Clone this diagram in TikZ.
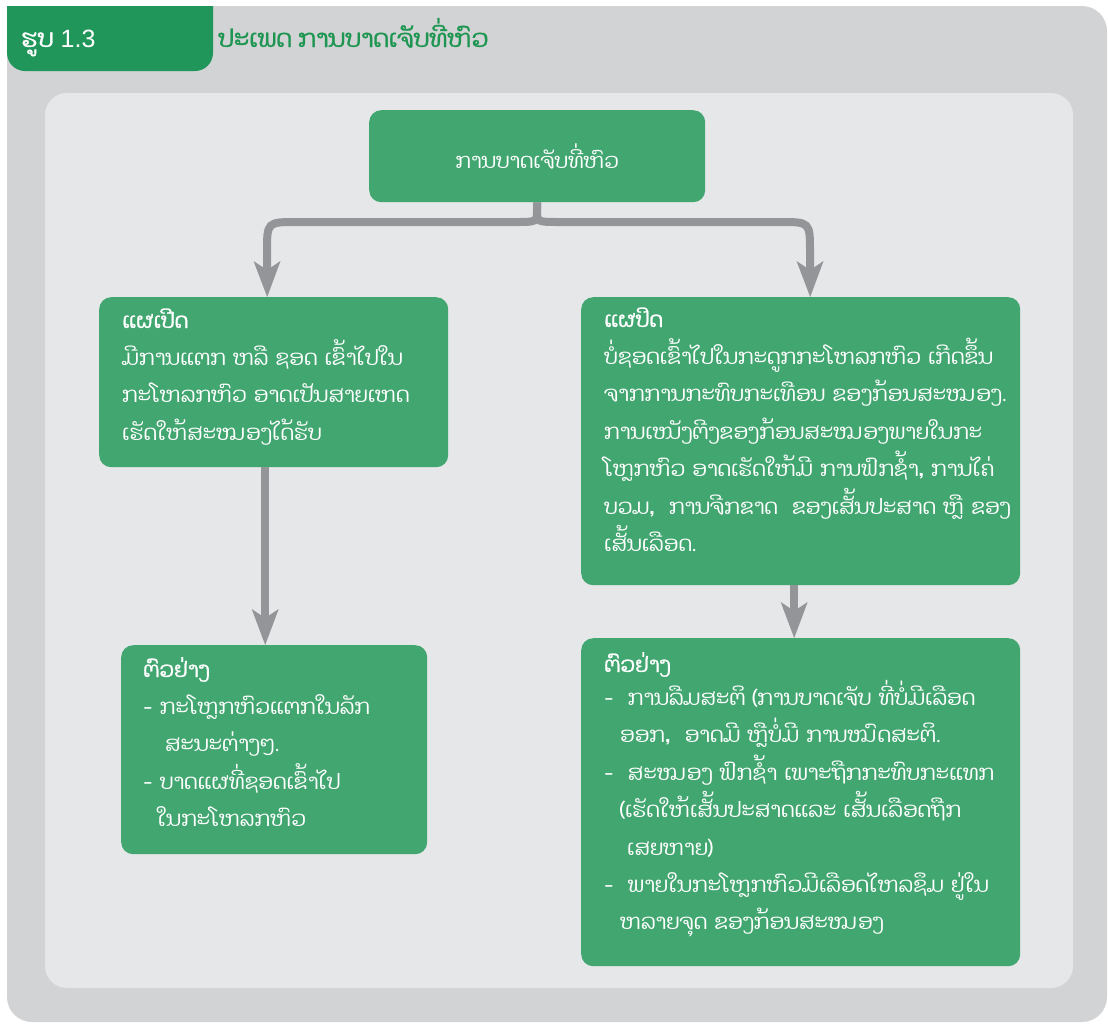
\documentclass[tikz,border=0pt]{standalone}
\usepackage{fontspec}
\setmainfont{Liberation Sans}
\newfontfamily\lao[Script=Lao]{Dhyana}
\newfontfamily\laob[Script=Lao,FakeBold=1.2]{Dhyana}
\usetikzlibrary{arrows.meta}
\definecolor{framegray}{HTML}{D1D3D4}
\definecolor{panelgray}{HTML}{E6E7E8}
\definecolor{boxgreen}{HTML}{41A66F}
\definecolor{tabgreen}{HTML}{21965A}
\definecolor{titlegreen}{HTML}{1E9652}
\definecolor{arrgray}{HTML}{939598}
\begin{document}
\begin{tikzpicture}[x=1pt,y=-1pt,
  box/.style={fill=boxgreen, rounded corners=12pt, anchor=north west, inner sep=0pt},
  txt/.style={text=white, font=\lao\fontsize{21.3}{37.4}\selectfont, anchor=base west, text width=430pt, align=left, inner sep=0pt},
  arr/.style={draw=arrgray, line width=8pt, -{Stealth[length=36pt,width=27pt,inset=9pt,line width=0pt]}}]
\useasboundingbox (0,0) rectangle (1108,1023);
% frame
\fill[framegray, rounded corners=25pt] (7,6) rectangle (1107,1022);
\fill[tabgreen] (7,6) -- (213,6) [rounded corners=18pt] -- (213,71) -- (7,71) [sharp corners] -- cycle;
\fill[panelgray, rounded corners=22pt] (45,93) rectangle (1073,988);
\node[anchor=base west, text=white, font=\fontsize{25}{30}\selectfont, inner sep=0pt] (tabt) at (21,47) {{\laob ຮູບ} 1.3};
\node[anchor=base west, text=titlegreen, font=\laob\fontsize{24.5}{28}\selectfont, inner sep=0pt] (title) at (218,47) {ປະເພດ ການບາດເຈັບທີ່ຫົວ};
% boxes
\node[box, minimum width=336pt, minimum height=92pt, text=white, font=\lao\fontsize{21}{26}\selectfont] (top) at (369,110) {ການບາດເຈັບທີ່ຫົວ};
\node[box, minimum width=349pt, minimum height=170pt] (l1) at (99,297) {};
\node[box, minimum width=306pt, minimum height=209pt] (l2) at (121,645) {};
\node[box, minimum width=439pt, minimum height=288pt] (r1) at (581,297) {};
\node[box, minimum width=439pt, minimum height=328pt] (r2) at (581,638) {};
% texts
\node[txt] (l1t) at (122,328) {{\laob ແຜເປີດ}\\
ມີການແຕກ ຫລື ຊອດ ເຂົ້າໄປໃນ\\
ກະໂຫລກຫົວ ອາດເປັນສາຍເຫດ\\
ເຮັດໃຫ້ສະໝອງໄດ້ຮັບ};
\node[txt] (r1t) at (604,327) {{\laob ແຜປິດ}\\
ບໍ່ຊອດເຂົ້າໄປໃນກະດູກກະໂຫລກຫົວ ເກີດຂຶ້ນ\\
ຈາກການກະທົບກະເທືອນ ຂອງກ້ອນສະໝອງ.\\
ການເໜັງຕີງຂອງກ້ອນສະໝອງພາຍໃນກະ\\
ໂຫຼກຫົວ ອາດເຮັດໃຫ້ມີ ການຟົກຊ້ຳ, ການໄຄ່\\
ບວມ,\ \ ການຈີກຂາດ\ \ ຂອງເສັ້ນປະສາດ ຫຼື ຂອງ\\
ເສັ້ນເລືອດ.};
\node[txt] (l2t) at (143,677) {{\laob ຕົວຢ່າງ}\\
- ກະໂຫຼກຫົວແຕກໃນລັກ\\
\hspace*{22pt}ສະນະຕ່າງໆ.\\
- ບາດແຜທີ່ຊອດເຂົ້າໄປ\\
\hspace*{14pt}ໃນກະໂຫລກຫົວ};
\node[txt] (r2t) at (604,672) {{\laob ຕົວຢ່າງ}\\[-4pt]
-\ \ ການລືມສະຕິ (ການບາດເຈັບ ທີ່ບໍ່ມີເລືອດ\\
\hspace*{16pt}ອອກ,\ \ ອາດມີ ຫຼືບໍ່ມີ ການໝົດສະຕິ.\\
-\ \ ສະໝອງ ຟົກຊ້ຳ ເພາະຖືກກະທົບກະແທກ\\
\hspace*{16pt}(ເຮັດໃຫ້ເສັ້ນປະສາດແລະ ເສັ້ນເລືອດຖືກ\\
\hspace*{23pt}ເສຍຫາຍ)\\
-\ \ ພາຍໃນກະໂຫຼກຫົວມີເລືອດໄຫລຊຶມ ຢູ່ໃນ\\
\hspace*{16pt}ຫລາຍຈຸດ ຂອງກ້ອນສະໝອງ};
% connectors
\draw[arr] (top.south) -- (537,210) .. controls (537,222) .. (515,222) -- (297,222) .. controls (267,222) .. (267,252) -- ([xshift=-6.5pt]l1.north);
\draw[arr] (top.south) -- (537,210) .. controls (537,222) .. (559,222) -- (780,222) .. controls (810,222) .. (810,252) -- ([xshift=9.5pt]r1.north);
\draw[arr] ([xshift=-8.5pt]l1.south) -- ([xshift=-8.5pt]l1.south |- l2.north);
\draw[arr] ([xshift=-6.5pt]r1.south) -- ([xshift=-6.5pt]r1.south |- r2.north);
\end{tikzpicture}
\end{document}
